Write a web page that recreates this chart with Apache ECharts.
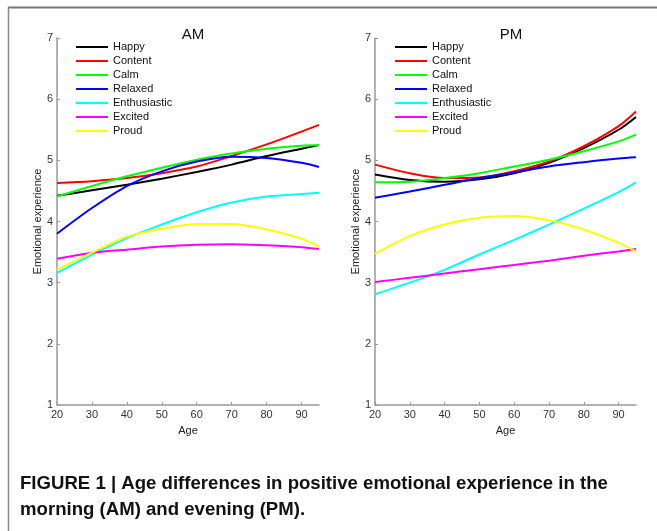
<!DOCTYPE html>
<html>
<head>
<meta charset="utf-8">
<script src="https://cdn.jsdelivr.net/npm/echarts@6/dist/echarts.min.js"></script>
<style>
    html, body { margin: 0; padding: 0; background: #fff; }
    #chart { width: 657px; height: 531px; }
</style>
</head>
<body>
<div id="chart"></div>
<script>
var ages = [20, 30, 40, 50, 60, 70, 80, 90, 95];
var names = ["Happy", "Content", "Calm", "Relaxed", "Enthusiastic", "Excited", "Proud"];
var colors = ["#000000", "#ff0000", "#00ff00", "#0000ff", "#00ffff", "#ff00ff", "#ffff00"];

// morning (AM)
var amHappy = [4.42, 4.51, 4.60, 4.70, 4.81, 4.93, 5.07, 5.19, 5.25];
var amContent = [4.63, 4.66, 4.71, 4.79, 4.90, 5.07, 5.26, 5.47, 5.58];
var amCalm = [4.41, 4.58, 4.74, 4.88, 5.01, 5.11, 5.19, 5.24, 5.25];
var amRelaxed = [3.80, 4.22, 4.58, 4.82, 4.98, 5.06, 5.04, 4.96, 4.89];
var amEnthusiastic = [3.16, 3.46, 3.73, 3.95, 4.15, 4.31, 4.41, 4.45, 4.47];
var amExcited = [3.39, 3.49, 3.54, 3.59, 3.62, 3.63, 3.61, 3.58, 3.55];
var amProud = [3.21, 3.49, 3.75, 3.88, 3.96, 3.96, 3.87, 3.72, 3.59];

// evening (PM)
var pmHappy = [4.77, 4.68, 4.65, 4.69, 4.79, 4.96, 5.20, 5.50, 5.71];
var pmContent = [4.93, 4.79, 4.71, 4.72, 4.82, 4.98, 5.23, 5.56, 5.80];
var pmCalm = [4.64, 4.65, 4.71, 4.79, 4.90, 5.01, 5.15, 5.31, 5.42];
var pmRelaxed = [4.39, 4.49, 4.60, 4.71, 4.80, 4.90, 4.97, 5.03, 5.05];
var pmEnthusiastic = [2.81, 3.00, 3.21, 3.46, 3.70, 3.95, 4.21, 4.48, 4.64];
var pmExcited = [3.01, 3.08, 3.15, 3.22, 3.29, 3.36, 3.44, 3.51, 3.55];
var pmProud = [3.47, 3.76, 3.95, 4.06, 4.09, 4.02, 3.87, 3.65, 3.51];

var xTicks = [20, 30, 40, 50, 60, 70, 80, 90];

var amData = [amHappy, amContent, amCalm, amRelaxed, amEnthusiastic, amExcited, amProud];
var pmData = [pmHappy, pmContent, pmCalm, pmRelaxed, pmEnthusiastic, pmExcited, pmProud];

var myChart = echarts.init(document.getElementById("chart"));

function makeX(idx) {
    return {
        type: "value",
        gridIndex: idx,
        min: 20,
        max: 95,
        interval: 10,
        name: "Age",
        nameLocation: "middle",
        nameGap: 20,
        nameTextStyle: { color: "#222", fontSize: 11, fontFamily: "Liberation Sans" },
        axisLine: { lineStyle: { color: "#999", width: 1.5 } },
        axisTick: { inside: true, length: 3, customValues: xTicks, lineStyle: { color: "#999" } },
        axisLabel: { customValues: xTicks, color: "#333", fontSize: 11, margin: 4, fontFamily: "Liberation Sans" },
        splitLine: { show: false }
    };
}

function makeY(idx) {
    return {
        type: "value",
        gridIndex: idx,
        min: 1,
        max: 7,
        interval: 1,
        name: "Emotional experience",
        nameLocation: "middle",
        nameGap: 14,
        nameTextStyle: { color: "#222", fontSize: 11, fontFamily: "Liberation Sans" },
        axisLine: { show: true, lineStyle: { color: "#999", width: 1.5 } },
        axisTick: { show: true, inside: true, length: 3, lineStyle: { color: "#999" } },
        axisLabel: { color: "#333", fontSize: 11, margin: 4, fontFamily: "Liberation Sans" },
        splitLine: { show: false }
    };
}

function makeLegend(left) {
    return {
        orient: "vertical",
        left: left,
        top: 41,
        padding: 0,
        icon: "rect",
        itemWidth: 32,
        itemHeight: 2,
        itemGap: 2,
        data: names,
        textStyle: { color: "#111", fontSize: 11, lineHeight: 12, fontFamily: "Liberation Sans" }
    };
}

var series = [];
[amData, pmData].forEach(function (group, g) {
    group.forEach(function (vals, i) {
        series.push({
            name: names[i],
            type: "line",
            xAxisIndex: g,
            yAxisIndex: g,
            smooth: 0.3,
            showSymbol: false,
            color: colors[i],
            lineStyle: { width: 2, color: colors[i] },
            data: ages.map(function (a, k) { return [a, vals[k]]; })
        });
    });
});

var option = {
    animation: false,
    backgroundColor: "#fff",
    title: [
        { text: "AM", left: 188, top: 22, textAlign: "center", textStyle: { fontSize: 15, fontWeight: "normal", color: "#111", fontFamily: "Liberation Sans" } },
        { text: "PM", left: 506, top: 22, textAlign: "center", textStyle: { fontSize: 15, fontWeight: "normal", color: "#111", fontFamily: "Liberation Sans" } }
    ],
    legend: [makeLegend(76), makeLegend(395)],
    grid: [
        { left: 57, top: 38, width: 262, height: 367 },
        { left: 375, top: 38, width: 261, height: 367 }
    ],
    xAxis: [makeX(0), makeX(1)],
    yAxis: [makeY(0), makeY(1)],
    series: series,
    graphic: [
        { type: "line", shape: { x1: 8, y1: 7.5, x2: 657, y2: 7.5 }, style: { stroke: "#777", lineWidth: 2 } },
        { type: "line", shape: { x1: 8.5, y1: 7, x2: 8.5, y2: 531 }, style: { stroke: "#888", lineWidth: 1.5 } },
        {
            type: "text", left: 20, top: 474,
            style: { text: "FIGURE 1 | Age differences in positive emotional experience in the", font: 'bold 18.6px "Liberation Sans Narrow", "Liberation Sans"', fill: "#111" }
        },
        {
            type: "text", left: 20, top: 500,
            style: { text: "morning (AM) and evening (PM).", font: 'bold 18.6px "Liberation Sans Narrow", "Liberation Sans"', fill: "#111" }
        }
    ]
};
myChart.setOption(option, true);
</script>
</body>
</html>
